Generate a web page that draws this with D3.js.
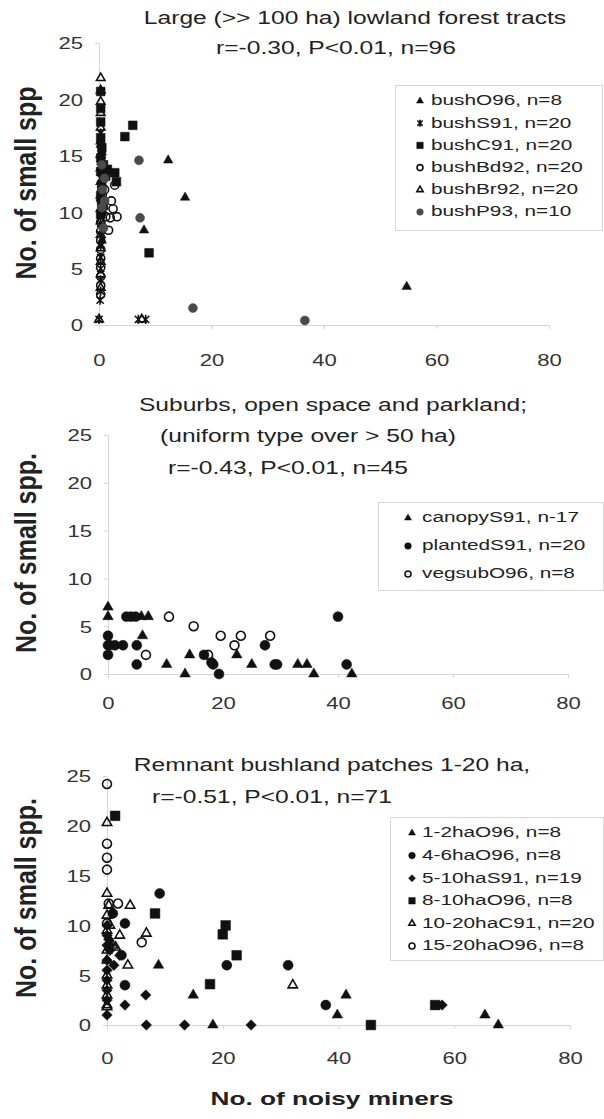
<!DOCTYPE html>
<html>
<head>
<meta charset="utf-8">
<script src="https://cdn.jsdelivr.net/npm/d3@7"></script>
<style>
  body { margin: 0; background: #fff; }
  svg { display: block; font-family: "Liberation Sans", Arial, sans-serif; }
</style>
</head>
<body>
<script>
// ticks shared by all three panels
var xTicks = [0, 20, 40, 60, 80];
var yTicks = [0, 5, 10, 15, 20, 25];

// Panel 1: large lowland forest tracts  [noisy miners, small spp]
var bushO96 = [[12.3,14.6],[15.3,11.3],[8.0,8.4],[54.7,3.4],[0.3,16.0],[0.5,15.3],[0.3,12.0],[0.5,7.5]];
var bushS91 = [[0,0.5],[7.0,0.5],[8.3,0.5],[0.2,2.2],[0.3,3],[0.3,4],[0.3,5],[0.3,6],[0.3,7],[0.3,8],
               [0.3,9],[0.3,10],[0.3,11],[0.3,12],[0.3,13],[0.3,14],[0.5,15],[0.3,16],[0.3,17],[0.5,11.5]];
var bushC91 = [[0.3,20.7],[0.3,19.2],[0.3,16.6],[0.5,15.7],[0.3,14.8],[0.8,14.2],[0.3,13.6],[1.2,13.2],[2.8,13.5],[3.1,12.7],
               [0.5,12.4],[0.3,11.3],[0.8,10.6],[0.3,9.8],[4.6,16.7],[6.0,17.7],[8.9,6.4],[1.5,13.8],[0.3,18],[0.5,10.2]];
var bushBd92 = [[0.3,3.5],[0.3,4.3],[0.3,5.1],[0.3,5.9],[0.3,6.7],[0.3,7.5],[0.3,8.3],[0.3,9.1],[0.5,9.9],[1.7,8.4],
                [2.0,9.5],[2.5,10.3],[3.2,9.6],[1.2,9.6],[2.8,12.4],[0.5,10.8],[1.0,12.0],[0.3,2.7],[2.2,11.0],[0.6,11.5]];
var bushBr92 = [[0.3,21.9],[0.3,19.8],[0.3,18.8],[0.3,17.5],[0.3,16.3],[0.3,15.1],[0.3,13.9],[0.3,12.7],[0.3,11.5],[0.3,10.3],
                [0.3,9.2],[0.3,8.0],[0.3,6.8],[0.3,5.6],[0.3,4.5],[0.3,3.3],[0,0.5],[7.6,0.5],[0.3,20.8],[0.5,14.5]];
var bushP93 = [[7.1,14.6],[7.3,9.5],[16.7,1.5],[36.6,0.4],[0.5,14.2],[1.0,13.0],[0.6,12.0],[1.0,11.0],[0.5,10.4],[0.8,8.6]];

// Panel 2: suburbs, open space and parkland
var canopyS91 = [[0,7],[0,6],[5.8,6],[7,6],[6,4],[10.2,1],[13.4,0],[14.2,2],[22.4,2],[25,1],[33,1],[34.6,1],[35.8,0],[42.4,0]];
var plantedS91 = [[0,4],[0,2],[0.3,3],[1.2,3],[2.6,3],[3.2,6],[4,6],[4.8,6],[5,3],[5,1],
                  [16.7,2],[18.3,1],[19.3,0],[27.3,3],[29,1],[40,6],[41.5,1],[0,3],[18,1.2],[29.4,1]];
var vegsubO96 = [[6.6,2],[10.6,6],[14.9,5],[17.4,2],[19.6,4],[22,3],[23.1,4],[28.2,4]];

// Panel 3: remnant bushland patches 1-20 ha
var ha12O96 = [[8.9,6],[14.9,3],[18.3,0],[39.8,1],[41.3,3],[65.3,1],[67.6,0],[0.5,8.2]];
var ha46O96 = [[9.1,13.2],[3.1,10.2],[2.5,7],[3.1,4],[20.7,6],[31.3,6],[37.8,2],[1,11.2]];
var ha510S91 = [[0,1],[3.1,2],[6.7,3],[6.8,0],[13.4,0],[24.9,0],[1.2,6],[2.2,7],[0,9],[0,8],
                [57.9,2],[0.5,7.5],[0,10],[0,6.5],[0,5.5],[0,4.5],[0,3.5],[0,2.5],[0.3,8.6]];
var ha810O96 = [[1.4,21],[8.3,11.2],[20.5,10],[20,9.1],[22.4,7],[17.8,4.1],[45.6,0],[56.7,2]];
var ha1020C91 = [[0,20.3],[0,13.2],[4,12],[6.8,9.2],[2.2,9],[3.6,6],[1,8],[0,11],[0,7.5],[0,6.5],
                 [0,5],[0,4],[0,3],[0,2],[32.1,4],[0.5,10],[0.3,12],[1.5,7.8],[0,9.5],[0,1.8]];
var ha1520O96 = [[0,24.2],[0,18.2],[0,16.8],[0,15.6],[0.3,12.2],[1.9,12.2],[0,10.2],[6,8.3]];

var panels = [
  {
    x0: 99, x1: 549, y0: 325, y1: 43, tickY: 360,
    titles: [["Large (>> 100 ha) lowland forest tracts", 355, 18], ["r=-0.30, P<0.01, n=96", 336, 48]],
    yTitle: "No. of small spp", yTitleY: 183,
    legend: { x: 395, y: 85, w: 208, h: 145, row0: 100, step: 22.2, sx: 420, tx: 431 },
    w: 9.5,
    series: [
      { name: "bushO96, n=8", data: bushO96, shape: "tri", fill: "#111" },
      { name: "bushS91, n=20", data: bushS91, shape: "star" },
      { name: "bushC91, n=20", data: bushC91, shape: "sq", fill: "#111" },
      { name: "bushBd92, n=20", data: bushBd92, shape: "cir", fill: null },
      { name: "bushBr92, n=20", data: bushBr92, shape: "tri", fill: null },
      { name: "bushP93, n=10", data: bushP93, shape: "cir", fill: "#4a4a4a" }
    ]
  },
  {
    x0: 108, x1: 568, y0: 674, y1: 435, tickY: 703,
    titles: [["Suburbs, open space and parkland;", 333, 405], ["(uniform type over > 50 ha)", 308, 436], ["r=-0.43, P<0.01, n=45", 288, 468]],
    yTitle: "No. of small spp.", yTitleY: 553,
    legend: { x: 378, y: 502, w: 226, h: 88, row0: 517, step: 28, sx: 408, tx: 422 },
    w: 10.5,
    series: [
      { name: "canopyS91, n-17", data: canopyS91, shape: "tri", fill: "#111" },
      { name: "plantedS91, n=20", data: plantedS91, shape: "cir", fill: "#111" },
      { name: "vegsubO96, n=8", data: vegsubO96, shape: "cir", fill: null }
    ]
  },
  {
    x0: 107, x1: 570, y0: 1025, y1: 776, tickY: 1058,
    titles: [["Remnant bushland patches 1-20 ha,", 332, 765], ["r=-0.51, P<0.01, n=71", 272, 797]],
    yTitle: "No. of small spp.", yTitleY: 898,
    legend: { x: 390, y: 817, w: 214, h: 143, row0: 832, step: 22.6, sx: 412, tx: 422 },
    w: 10.5,
    series: [
      { name: "1-2haO96, n=8", data: ha12O96, shape: "tri", fill: "#111" },
      { name: "4-6haO96, n=8", data: ha46O96, shape: "cir", fill: "#111" },
      { name: "5-10haS91, n=19", data: ha510S91, shape: "dia", fill: "#111" },
      { name: "8-10haO96, n=8", data: ha810O96, shape: "sq", fill: "#111" },
      { name: "10-20haC91, n=20", data: ha1020C91, shape: "tri", fill: null },
      { name: "15-20haO96, n=8", data: ha1520O96, shape: "cir", fill: null }
    ]
  }
];

var svg = d3.select("body").append("svg")
  .attr("width", 604)
  .attr("height", 1119);

// the source picture is stretched sideways, so text is scaled in x
function stretchText(parent, x, y, str, size, opt) {
  opt = opt || {};
  return parent.append("text")
    .attr("transform", "translate(" + x + "," + y + ") scale(" + (opt.sx || 1.33) + ",1)")
    .attr("text-anchor", opt.anchor || "middle")
    .attr("dy", "0.35em")
    .style("font-size", size + "px")
    .style("font-weight", opt.bold ? "bold" : "normal")
    .style("fill", opt.color || "#222")
    .text(str);
}

function symbolPath(shape, w) {
  if (shape == "tri") return d3.symbol(d3.symbolTriangle, w * w * Math.sqrt(3) / 4)();
  if (shape == "sq") return d3.symbol(d3.symbolSquare, w * w * 0.85)();
  if (shape == "dia") return d3.symbol(d3.symbolSquare, w * w / 2)();
  if (shape == "cir") return d3.symbol(d3.symbolCircle, Math.PI * w * w / 4 * 0.9)();
  // star marker: x with a vertical bar
  var r = w * 0.42;
  return "M" + (-r) + "," + (-r) + "L" + r + "," + r + "M" + (-r) + "," + r + "L" + r + "," + (-r) +
         "M0," + (-r * 1.3) + "L0," + (r * 1.3);
}

function drawMark(g, s, px, py, w) {
  var open = !s.fill;
  g.append("path")
    .attr("d", symbolPath(s.shape, open ? w * 0.9 : w))
    .attr("transform", "translate(" + px + "," + py + ")" + (s.shape == "dia" ? " rotate(45)" : ""))
    .style("fill", s.shape == "star" ? "none" : (open ? "none" : s.fill))
    .style("stroke", s.fill || "#111")
    .style("stroke-width", open || s.shape == "star" ? 1.6 : 0.5);
}

panels.forEach(function(p) {
  var x = d3.scaleLinear().domain([0, 80]).range([p.x0, p.x1]);
  var y = d3.scaleLinear().domain([0, 25]).range([p.y0, p.y1]);
  var g = svg.append("g");

  // axes
  var gx = g.append("g")
    .attr("transform", "translate(0," + p.y0 + ")")
    .call(d3.axisBottom(x).tickValues(xTicks).tickSize(4).tickSizeOuter(0));
  gx.selectAll("text")
    .attr("y", null).attr("dy", "0.35em")
    .attr("transform", "translate(0," + (p.tickY - p.y0) + ") scale(1.3,1)");

  var gy = g.append("g")
    .attr("transform", "translate(" + p.x0 + ",0)")
    .call(d3.axisLeft(y).tickValues(yTicks).tickSize(4).tickSizeOuter(0));
  gy.selectAll("text")
    .attr("x", null).attr("dy", "0.35em")
    .attr("transform", "translate(-16,0) scale(1.3,1)");

  g.selectAll(".domain, .tick line").style("stroke", "#d4d4d4");
  g.selectAll(".tick text")
    .style("font-size", "17px")
    .style("font-family", "'Liberation Sans', Arial, sans-serif")
    .style("fill", "#333");

  // titles
  p.titles.forEach(function(t) { stretchText(g, t[1], t[2], t[0], 18.5, { sx: 1.33 }); });

  g.append("text")
    .attr("transform", "translate(26," + p.yTitleY + ") rotate(-90) scale(1,1.15)")
    .attr("text-anchor", "middle")
    .attr("dy", "0.35em")
    .style("font-size", "25px")
    .style("font-weight", "bold")
    .style("fill", "#222")
    .text(p.yTitle);

  // points
  p.series.forEach(function(s) {
    s.data.forEach(function(d) { drawMark(g, s, x(d[0]), y(d[1]), p.w); });
  });

  // legend
  var L = p.legend;
  g.append("rect")
    .attr("x", L.x + 0.5).attr("y", L.y + 0.5)
    .attr("width", L.w - 1).attr("height", L.h)
    .style("fill", "#fff")
    .style("stroke", "#d8d8d8");
  p.series.forEach(function(s, i) {
    var ry = L.row0 + i * L.step;
    drawMark(g, s, L.sx, ry + 1, 7);
    stretchText(g, L.tx, ry, s.name, 15.5, { anchor: "start", sx: 1.34 });
  });
});

stretchText(svg, 332, 1098, "No. of noisy miners", 19, { bold: true, sx: 1.38 });
</script>
</body>
</html>
